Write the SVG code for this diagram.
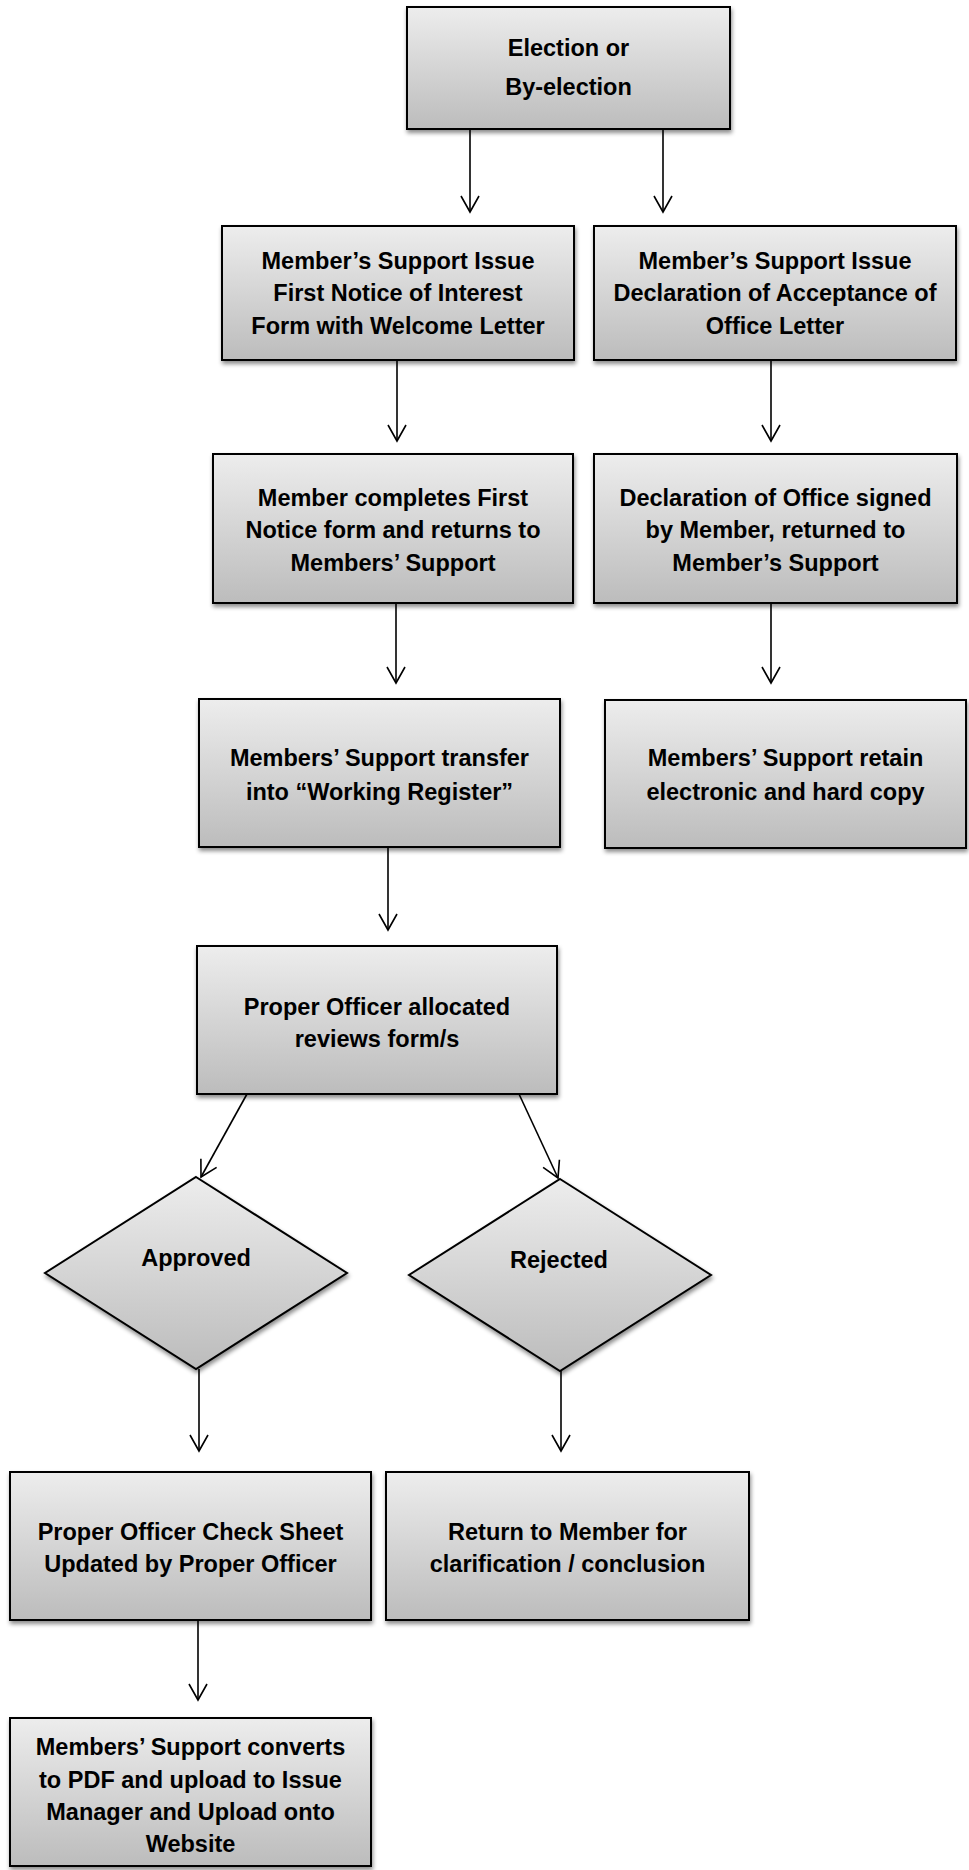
<svg xmlns="http://www.w3.org/2000/svg" width="969" height="1870" viewBox="0 0 969 1870">
<defs>
<linearGradient id="g" x1="0" y1="0" x2="0" y2="1">
<stop offset="0" stop-color="#ededed"/>
<stop offset="1" stop-color="#bcbcbc"/>
</linearGradient>
<filter id="sh" x="-10%" y="-10%" width="120%" height="125%">
<feDropShadow dx="1" dy="3" stdDeviation="2" flood-color="#000" flood-opacity="0.45"/>
</filter>
<marker id="arr" viewBox="-18 -11 20 22" refX="0" refY="0" markerWidth="20" markerHeight="22" markerUnits="userSpaceOnUse" orient="auto">
<path d="M-16,-9 L0,0 L-16,9" fill="none" stroke="#000" stroke-width="1.6"/>
</marker>
</defs>
<style>
.box{fill:url(#g);stroke:#000;stroke-width:2;filter:url(#sh)}
.t{font-family:"Liberation Sans",Arial,sans-serif;font-weight:bold;font-size:23.5px;fill:#000;text-anchor:middle}
.c{fill:none;stroke:#000;stroke-width:1.6;marker-end:url(#arr)}
</style>

<g id="connectors">
<line class="c" x1="470" y1="129" x2="470" y2="212"/>
<line class="c" x1="663" y1="129" x2="663" y2="212"/>
<line class="c" x1="397" y1="360" x2="397" y2="441"/>
<line class="c" x1="771" y1="360" x2="771" y2="441"/>
<line class="c" x1="396" y1="603" x2="396" y2="683"/>
<line class="c" x1="771" y1="603" x2="771" y2="683"/>
<line class="c" x1="388" y1="847" x2="388" y2="930"/>
<line class="c" x1="247" y1="1094" x2="201" y2="1177"/>
<line class="c" x1="519" y1="1094" x2="558" y2="1178"/>
<line class="c" x1="199" y1="1369" x2="199" y2="1451"/>
<line class="c" x1="561" y1="1371" x2="561" y2="1451"/>
<line class="c" x1="198" y1="1620" x2="198" y2="1700"/>
</g>

<g id="election">
<rect class="box" x="407" y="7" width="323" height="122"/>
<text class="t" x="568.5" y="56">Election or</text>
<text class="t" x="568.5" y="95">By-election</text>
</g>

<g id="first-notice">
<rect class="box" x="222" y="226" width="352" height="134"/>
<text class="t" x="398" y="268.5">Member’s Support Issue</text>
<text class="t" x="398" y="301">First Notice of Interest</text>
<text class="t" x="398" y="333.5">Form with Welcome Letter</text>
</g>

<g id="declaration-letter">
<rect class="box" x="594" y="226" width="362" height="134"/>
<text class="t" x="775" y="268.5">Member’s Support Issue</text>
<text class="t" x="775" y="301">Declaration of Acceptance of</text>
<text class="t" x="775" y="333.5">Office Letter</text>
</g>

<g id="member-completes">
<rect class="box" x="213" y="454" width="360" height="149"/>
<text class="t" x="393" y="505.5">Member completes First</text>
<text class="t" x="393" y="538">Notice form and returns to</text>
<text class="t" x="393" y="570.5">Members’ Support</text>
</g>

<g id="declaration-signed">
<rect class="box" x="594" y="454" width="363" height="149"/>
<text class="t" x="775.5" y="505.5">Declaration of Office signed</text>
<text class="t" x="775.5" y="538">by Member, returned to</text>
<text class="t" x="775.5" y="570.5">Member’s Support</text>
</g>

<g id="working-register">
<rect class="box" x="199" y="699" width="361" height="148"/>
<text class="t" x="379.5" y="765.5">Members’ Support transfer</text>
<text class="t" x="379.5" y="800">into “Working Register”</text>
</g>

<g id="retain-copy">
<rect class="box" x="605" y="700" width="361" height="148"/>
<text class="t" x="785.5" y="765.5">Members’ Support retain</text>
<text class="t" x="785.5" y="800">electronic and hard copy</text>
</g>

<g id="proper-officer">
<rect class="box" x="197" y="946" width="360" height="148"/>
<text class="t" x="377" y="1014.5">Proper Officer allocated</text>
<text class="t" x="377" y="1046.5">reviews form/s</text>
</g>

<g id="approved">
<polygon class="box" points="196,1177 347,1273 196,1369 45,1273"/>
<text class="t" x="196" y="1266">Approved</text>
</g>

<g id="rejected">
<polygon class="box" points="560,1179 711,1275 560,1371 409,1275"/>
<text class="t" x="559" y="1268">Rejected</text>
</g>

<g id="check-sheet">
<rect class="box" x="10" y="1472" width="361" height="148"/>
<text class="t" x="190.5" y="1539.5">Proper Officer Check Sheet</text>
<text class="t" x="190.5" y="1571.5">Updated by Proper Officer</text>
</g>

<g id="return-member">
<rect class="box" x="386" y="1472" width="363" height="148"/>
<text class="t" x="567.5" y="1539.5">Return to Member for</text>
<text class="t" x="567.5" y="1571.5">clarification / conclusion</text>
</g>

<g id="upload">
<rect class="box" x="10" y="1718" width="361" height="148"/>
<text class="t" x="190.5" y="1755">Members’ Support converts</text>
<text class="t" x="190.5" y="1787.5">to PDF and upload to Issue</text>
<text class="t" x="190.5" y="1820">Manager and Upload onto</text>
<text class="t" x="190.5" y="1852">Website</text>
</g>
</svg>
